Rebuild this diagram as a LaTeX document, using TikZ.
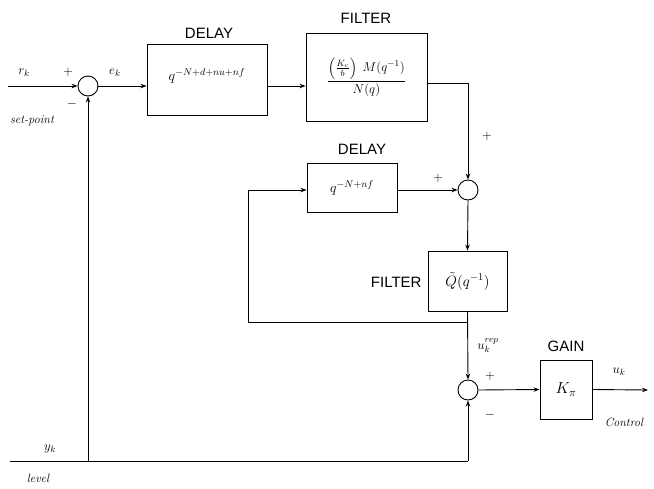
\RequirePackage{fix-cm}
\documentclass[tikz,border=0pt]{standalone}
\usepackage{amsmath}
\usepackage{fontspec}
\setsansfont{Liberation Sans}
\usetikzlibrary{arrows.meta}
\begin{document}
\begin{tikzpicture}[x=1pt,y=-1pt,
  line width=0.9pt,
  arr/.style={-{Stealth[length=6pt,width=4.5pt]}},
  sumj/.style={circle,draw,minimum size=20pt,inner sep=0pt},
  blk/.style={draw,rectangle,inner sep=0pt},
  ttl/.style={font=\sffamily\fontsize{15}{17}\selectfont},
  lbl/.style={font=\fontsize{13}{15}\selectfont},
  itl/.style={font=\itshape\fontsize{12}{14}\selectfont}]
\useasboundingbox (0,0) rectangle (654,488);
% nodes
\node[sumj] (s1) at (88,86) {};
\node[blk,minimum width=120pt,minimum height=71pt] (d1) at (207,80) {};
\node[font=\fontsize{14}{16}\selectfont] (d1t) at (207,76) {$q^{-N+d+nu+nf}$};
\node[ttl] (d1l) at (209,33) {DELAY};
\node[blk,minimum width=121pt,minimum height=88pt] (f1) at (366.5,77)
  {\fontsize{13}{15}\selectfont$\dfrac{\left(\frac{K_c}{b}\right)\;M(q^{-1})}{N(q)}$};
\node[ttl] (f1l) at (366,18) {FILTER};
\node[sumj] (s2) at (468,190) {};
\node[blk,minimum width=90pt,minimum height=49pt] (d2) at (352,187.5) {\fontsize{14}{16}\selectfont$q^{-N+nf}$};
\node[ttl] (d2l) at (362,149) {DELAY};
\node[blk,minimum width=79pt,minimum height=60pt] (f3) at (467.5,281) {\fontsize{15}{17}\selectfont$\tilde{Q}(q^{-1})$};
\node[ttl,anchor=east,inner sep=1pt] (f3l) at (423,282) {FILTER};
\node[sumj] (s3) at (468,390) {};
\node[blk,minimum width=52pt,minimum height=59pt] (g) at (566,389.5) {\fontsize{16}{18}\selectfont$K_{\pi}$};
\node[ttl] (gl) at (566,346) {GAIN};
% free end coordinates
\coordinate (rin) at (8,86);
\coordinate (yin) at (10,461);
\coordinate (uout) at (648,390);
\coordinate (fcorner) at (468,83);
\coordinate (fb) at (468,322);
\coordinate (fbl) at (248,322);
\coordinate (fbt) at (248,190);
\coordinate (lv3) at (468,461);
\coordinate (lv1) at (88,461);
% connectors
\draw[arr] (rin) -- (s1.west);
\draw[arr] (s1.east) -- (d1.west |- s1.east);
\draw[arr] (d1.east |- s1.east) -- (f1.west |- s1.east);
\draw[arr] (f1.east |- fcorner) -- (fcorner) -- (s2.north);
\draw[arr] (d2.east |- s2.west) -- (s2.west);
\draw[arr] (s2.south) -- (f3.north);
\draw[arr] (f3.south) -- (s3.north);
\draw (fb) -- (fbl) -- (fbt);
\draw[arr] (fbt) -- (d2.west |- fbt);
\draw[arr] (s3.east) -- (g.west);
\draw[arr] (g.east) -- (uout);
\draw (yin) -- (lv3);
\draw[arr] (lv3) -- (s3.south);
\draw[arr] (lv1) -- (s1.south);
% labels
\node[lbl] (lrk) at (24,73) {$r_k$};
\node[lbl] (lp1) at (68,72) {$+$};
\node[lbl] (lm1) at (72,104) {$-$};
\node[itl] (lsp) at (32,121) {set-point};
\node[lbl] (lek) at (115,73) {$e_k$};
\node[lbl] (lp2a) at (487,136) {$+$};
\node[lbl] (lp2b) at (438,178) {$+$};
\node[lbl] (lurep) at (488,346) {$u_k^{rep}$};
\node[lbl] (lp3) at (490,376) {$+$};
\node[lbl] (lm3) at (490,415) {$-$};
\node[lbl] (luk) at (619,372) {$u_k$};
\node[itl] (lctl) at (624,422) {Control};
\node[lbl] (lyk) at (50,449) {$y_k$};
\node[itl] (llev) at (38,478) {level};
\end{tikzpicture}
\end{document}
